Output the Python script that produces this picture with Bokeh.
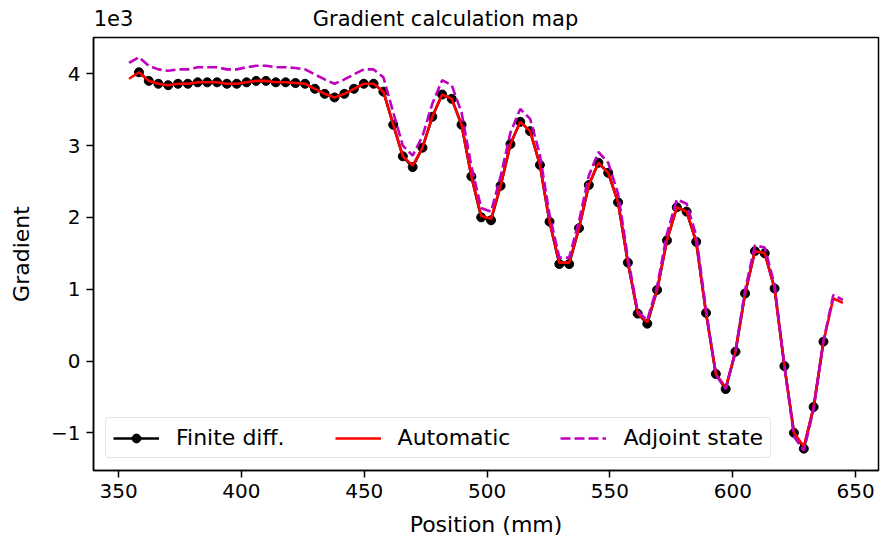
from bokeh.plotting import figure
from bokeh.models import (Legend, LegendItem, FixedTicker, LinearAxis,
                          CustomJSTickFormatter, Range1d)
from bokeh.embed import file_html
from bokeh.resources import INLINE

FONT = "DejaVu Sans"

# Positions (mm) of the samples of the "Automatic" / "Adjoint state" curves
position = [354.3, 358.3, 362.3, 366.2, 370.2, 374.2, 378.2, 382.2, 386.1, 390.1,
            394.1, 398.1, 402.1, 406.0, 410.0, 414.0, 418.0, 422.0, 425.9, 429.9,
            433.9, 437.9, 441.9, 445.8, 449.8, 453.8, 457.8, 461.8, 465.7, 469.7,
            473.7, 477.7, 481.7, 485.6, 489.6, 493.6, 497.6, 501.6, 505.5, 509.5,
            513.5, 517.5, 521.5, 525.4, 529.4, 533.4, 537.4, 541.4, 545.3, 549.3,
            553.3, 557.3, 561.3, 565.2, 569.2, 573.2, 577.2, 581.2, 585.1, 589.1,
            593.1, 597.1, 601.1, 605.0, 609.0, 613.0, 617.0, 621.0, 624.9, 628.9,
            632.9, 636.9, 640.9, 644.8]

# Gradient values in units of 1e3
automatic = [3.93, 4.02, 3.90, 3.86, 3.84, 3.86, 3.86, 3.88, 3.88, 3.88,
             3.86, 3.86, 3.88, 3.90, 3.90, 3.88, 3.88, 3.87, 3.86, 3.79,
             3.72, 3.67, 3.72, 3.79, 3.86, 3.86, 3.75, 3.29, 2.85, 2.72,
             2.97, 3.40, 3.71, 3.65, 3.29, 2.57, 2.02, 1.98, 2.44, 3.02,
             3.33, 3.20, 2.73, 1.94, 1.37, 1.37, 1.85, 2.45, 2.76, 2.62,
             2.21, 1.37, 0.66, 0.54, 0.99, 1.68, 2.14, 2.08, 1.66, 0.67,
             -0.18, -0.37, 0.13, 0.94, 1.53, 1.50, 1.01, -0.07, -1.00, -1.19,
             -0.64, 0.27, 0.87, 0.81]

adjoint = [4.15, 4.23, 4.11, 4.06, 4.04, 4.06, 4.06, 4.09, 4.09, 4.09,
           4.06, 4.06, 4.09, 4.11, 4.11, 4.09, 4.09, 4.08, 4.06, 3.99,
           3.92, 3.86, 3.92, 3.99, 4.06, 4.06, 3.95, 3.46, 3.00, 2.86,
           3.13, 3.58, 3.91, 3.84, 3.46, 2.71, 2.13, 2.08, 2.57, 3.18,
           3.51, 3.37, 2.87, 2.04, 1.44, 1.44, 1.95, 2.58, 2.91, 2.76,
           2.33, 1.44, 0.69, 0.57, 1.04, 1.77, 2.25, 2.19, 1.75, 0.71,
           -0.19, -0.39, 0.14, 0.99, 1.61, 1.58, 1.06, -0.07, -1.05, -1.25,
           -0.67, 0.28, 0.92, 0.85]

# Finite differences are available on the inner samples only
fd_position = position[1:72]
finite_diff = [4.02, 3.90, 3.86, 3.84, 3.86, 3.86, 3.88, 3.88, 3.88,
               3.86, 3.86, 3.88, 3.90, 3.90, 3.88, 3.88, 3.87, 3.86, 3.79,
               3.72, 3.67, 3.72, 3.79, 3.86, 3.86, 3.75, 3.29, 2.85, 2.70,
               2.97, 3.40, 3.71, 3.65, 3.29, 2.57, 2.00, 1.96, 2.44, 3.02,
               3.33, 3.20, 2.73, 1.94, 1.35, 1.35, 1.85, 2.45, 2.76, 2.62,
               2.21, 1.37, 0.66, 0.52, 0.99, 1.68, 2.14, 2.08, 1.66, 0.67,
               -0.18, -0.39, 0.13, 0.94, 1.53, 1.50, 1.01, -0.07, -1.00, -1.22,
               -0.64, 0.27]

x_ticks = [350, 400, 450, 500, 550, 600, 650]
y_ticks = [-1, 0, 1, 2, 3, 4]
title_text = "Gradient calculation map"
offset_text = "1e3"

W, H = 887, 542
B_LEFT, B_RIGHT, B_TOP, B_BOTTOM = 93, 9, 37, 72
FRAME_W = W - B_LEFT - B_RIGHT

p = figure(width=W, height=H, output_backend="svg", toolbar_location=None,
           title=None,
           x_range=Range1d(339.8, 659.3), y_range=Range1d(-1.524, 4.504),
           min_border_left=B_LEFT, min_border_right=B_RIGHT,
           min_border_top=B_TOP, min_border_bottom=B_BOTTOM)

p.background_fill_color = "white"
p.border_fill_color = "white"
p.outline_line_color = "black"
p.outline_line_width = 1.5
p.xgrid.visible = False
p.ygrid.visible = False

for ax in (p.xaxis[0], p.yaxis[0]):
    ax.axis_line_color = "black"
    ax.axis_line_width = 1.5
    ax.major_tick_line_color = "black"
    ax.major_tick_line_width = 1.5
    ax.major_tick_out = 7
    ax.major_tick_in = 0
    ax.minor_tick_line_color = None
    ax.major_label_text_font = FONT
    ax.major_label_text_font_size = "20px"
    ax.major_label_text_color = "black"
    ax.major_label_standoff = 6
    ax.axis_label_text_font = FONT
    ax.axis_label_text_font_size = "22px"
    ax.axis_label_text_font_style = "normal"
    ax.axis_label_text_color = "black"

p.xaxis.ticker = FixedTicker(ticks=x_ticks)
p.yaxis.ticker = FixedTicker(ticks=y_ticks)
p.yaxis.formatter = CustomJSTickFormatter(
    code="return tick < 0 ? '\\u2212' + Math.abs(tick) : String(tick);")
p.xaxis.axis_label = "Position (mm)"
p.yaxis.axis_label = "Gradient"
p.xaxis.axis_label_standoff = 11
p.yaxis.axis_label_standoff = 14

# Header line above the frame: offset text "1e3" at the left, title text
# (pixel-based helper range spanning the frame width)
p.extra_x_ranges = {"header": Range1d(0, FRAME_W)}
header = LinearAxis(
    x_range_name="header",
    ticker=FixedTicker(ticks=[20, 352], minor_ticks=[]),
    formatter=CustomJSTickFormatter(
        code="return tick < 100 ? %r : %r;" % (offset_text, title_text)),
    axis_line_color=None, major_tick_line_color=None,
    minor_tick_line_color=None, major_tick_out=0, major_tick_in=0,
    major_label_standoff=7, major_label_text_font=FONT,
    major_label_text_font_size="21px", major_label_text_color="black")
p.add_layout(header, "above")

fd_line = p.line(fd_position, finite_diff, color="black", line_width=2.6)
fd_pts = p.scatter(fd_position, finite_diff, size=9, color="black")
auto_line = p.line(position, automatic, color="#ff0000", line_width=2.6)
adj_line = p.line(position, adjoint, color="#bf00bf", line_width=2.6,
                  line_dash="10 4")

legend = Legend(items=[
    LegendItem(label="Finite diff.", renderers=[fd_line, fd_pts]),
    LegendItem(label="Automatic", renderers=[auto_line]),
    LegendItem(label="Adjoint state", renderers=[adj_line]),
], orientation="horizontal", location="bottom_left")
legend.label_text_font = FONT
legend.label_text_font_size = "22px"
legend.label_text_color = "black"
legend.glyph_width = 46
legend.glyph_height = 22
legend.label_standoff = 17
legend.spacing = 50
legend.padding = 7
legend.margin = 12
legend.border_line_color = "#cccccc"
legend.border_line_width = 1
legend.background_fill_alpha = 0.8
if "border_radius" in Legend.properties():
    legend.border_radius = 4
p.add_layout(legend)

open("out.html", "w").write(file_html(p, INLINE))
